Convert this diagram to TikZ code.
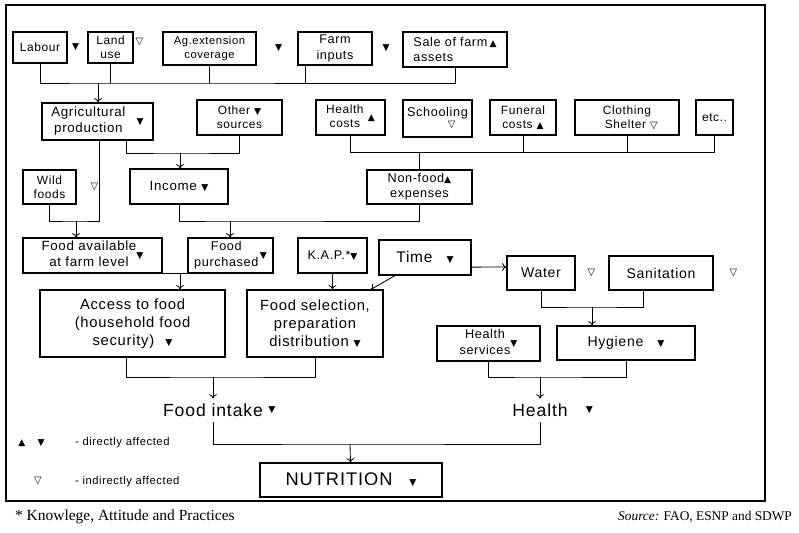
\documentclass[tikz,border=0pt]{standalone}
\usepackage{fontspec}
\usetikzlibrary{positioning}
\usetikzlibrary{arrows.meta}
\newfontfamily\boxfont[LetterSpace=5]{Liberation Sans}
\newfontfamily\notefont{Liberation Serif}
\newfontfamily\trifont{DejaVu Sans}
\newcommand{\dnfill}{{\trifont\fontsize{6.5}{7}\selectfont ▼}}
\newcommand{\upfill}{{\trifont\fontsize{6.5}{7}\selectfont ▲}}
\newcommand{\dnopen}{{\trifont\fontsize{7}{7}\selectfont ▽}}
\newcommand{\twolines}[1]{\begin{tabular}[c]{@{}c@{}}#1\end{tabular}}
\tikzset{
cbox/.style={ % Sets the properties for each box
draw,
line width=0.9pt,
inner sep=1pt,
align=center},
boxsize/.style 2 args={minimum width=#1*0.025cm, minimum height=#2*0.025cm},
fs/.style={font=\boxfont\fontsize{#1}{\dimexpr#1pt*6/5\relax}\selectfont},
sym/.style={inner sep=0pt} % Triangles beside the boxes
}

\begin{document}
\begin{tikzpicture}[x=0.025cm, y=-0.025cm, line width=0.6pt, >={To[length=3pt,width=5.5pt]}]
\useasboundingbox (0,0) rectangle (799,532);
\draw[line width=1pt] (6,5) rectangle (765,501);
% top row
\node[cbox, fs=8.5, boxsize={54}{31}] (labour) at (40,47.5) {Labour};
\node[sym, right=0.1cm of labour] (labour-s) {\dnfill};
\node[cbox, fs=8.5, boxsize={45}{31}] (land) at (110.5,47.5) {Land\\use};
\node[sym, right=0.04cm of land, yshift=0.14cm] (land-s) {\dnopen};
\node[cbox, fs=8, boxsize={93}{33}] (agext) at (209.5,48.5) {Ag.extension\\coverage};
\node[sym, right=0.45cm of agext] (agext-s) {\dnfill};
\node[cbox, fs=9, boxsize={74}{33}] (inputs) at (335,48.5) {Farm\\inputs};
\node[sym, right=0.24cm of inputs] (inputs-s) {\dnfill};
\node[cbox, fs=9, boxsize={104}{35}, align=left] (assets) at (455,49.5) {Sale of farm\,\upfill\\assets};
% second row
\node[cbox, fs=9.5, boxsize={111}{37}] (agr) at (97.5,121.5) {\twolines{Agricultural\\production}\hspace{8pt}\dnfill};
\node[cbox, fs=8.5, boxsize={85}{35}] (other) at (239.5,117.5) {Other \dnfill\\sources};
\node[cbox, fs=8.5, boxsize={69}{35}] (health) at (350.5,117.5) {\twolines{Health\\costs}\hspace{3pt}\upfill};
\node[cbox, fs=9, boxsize={69}{37}] (school) at (437.5,118.5) {Schooling\\[-3pt]\hspace*{20pt}\dnopen};
\node[cbox, fs=8.5, boxsize={66}{35}] (funeral) at (523,117.5) {Funeral\\costs \upfill};
\node[cbox, fs=8.5, boxsize={104}{35}] (cloth) at (627,117.5) {Clothing\\\hspace*{6pt}Shelter \dnopen};
\node[cbox, fs=8.5, boxsize={37}{35}] (etc) at (714.5,117.5) {etc..};
% third row
\node[cbox, fs=8.5, boxsize={53}{34}] (wild) at (49.5,187) {Wild\\foods};
\node[sym, right=0.34cm of wild] (wild-s) {\dnopen};
\node[cbox, fs=9.5, boxsize={98}{35}] (income) at (179,186.5) {Income \dnfill};
\node[cbox, fs=9, boxsize={105}{34}] (nonfood) at (419.5,187) {Non-food\upfill\\expenses};
% fourth row
\node[cbox, fs=9.5, boxsize={139}{35}] (farm) at (92.5,255.5) {\twolines{Food available\\at farm level}\dnfill};
\node[cbox, fs=9, boxsize={85}{35}] (purch) at (230.5,255.5) {\twolines{Food\\purchased}\hspace{1pt}\dnfill};
\node[cbox, fs=9, boxsize={69}{35}] (kap) at (332.5,255.5) {K.A.P.*\dnfill};
\node[cbox, fs=11, boxsize={92}{35}] (time) at (425,257.5) {Time\hspace{10pt}\dnfill};
\node[cbox, fs=10, boxsize={68}{34}] (water) at (541,273) {Water};
\node[sym, right=0.29cm of water] (water-s) {\dnopen};
\node[cbox, fs=10, boxsize={104}{34}] (sanit) at (661,273) {Sanitation};
\node[sym, right=0.39cm of sanit] (sanit-s) {\dnopen};
% fifth row
\node[cbox, fs=10.5, boxsize={185}{67}] (access) at (132.5,323.5) {Access to food\\(household food\\security)\hspace{8pt}\dnfill};
\node[cbox, fs=10.5, boxsize={136}{67}] (select) at (315,323.5) {Food selection,\\preparation\\distribution \dnfill};
\node[cbox, fs=9, boxsize={103}{35}] (hserv) at (488.5,343.5) {\twolines{Health\\services}\dnfill};
\node[cbox, fs=10, boxsize={138}{34}] (hyg) at (626,343) {Hygiene\hspace{10pt}\dnfill};
% outcomes
\node[fs=12.5] (intake) at (213,410) {Food intake};
\node[sym, right=0cm of intake] (intake-s) {\dnfill};
\node[fs=12.5] (hlth) at (540,410) {Health};
\node[sym, right=0.32cm of hlth] (hlth-s) {\dnfill};
\node[cbox, fs=13, boxsize={182}{34}] (nutr) at (351,480) {NUTRITION\hspace{12pt}\dnfill};
% legend and notes
\node[sym] (leg-up) at (22,443) {\upfill};
\node[sym, right=0.28cm of leg-up] (leg-dn) {\dnfill};
\node[fs=8, anchor=west] (leg-d) at (70,443) {- directly affected};
\node[sym] (leg-op) at (38,481) {\dnopen};
\node[fs=8, anchor=west] (leg-i) at (70,482) {- indirectly affected};
\node[font=\notefont\fontsize{11}{12}\selectfont, anchor=west] (note) at (10,517) {* Knowlege, Attitude and Practices};
\node[font=\notefont\fontsize{9.5}{11}\selectfont, anchor=east] (src) at (797,517) {\textit{Source:} FAO, ESNP and SDWP};
% connectors
\coordinate (top-j) at (98,83);
\coordinate (inp-j) at (305,83);
\draw (labour) |- (top-j) -| (assets);
\draw (land) -- (land |- top-j);
\draw (agext) -- (agext |- top-j);
\draw (inp-j) -- (inp-j |- inputs.south);
\draw[->] (top-j) -- (top-j |- agr.north);
\coordinate (inc-j) at (180,153);
\draw ([xshift=0.72cm]agr.south) |- (inc-j) -| (other);
\draw[->] (inc-j) -- (inc-j |- income.north);
\coordinate (nf-j) at (419.5,152);
\draw (health) |- (etc.south |- nf-j) -- (etc);
\draw (funeral) -- (funeral |- nf-j);
\draw (cloth) -- (cloth |- nf-j);
\draw (nf-j) -- (nonfood);
\coordinate (farm-j) at (76,221);
\draw (wild) |- (farm-j) -| ([xshift=0.06cm]agr.south);
\draw[->] (farm-j) -- (farm-j |- farm.north);
\coordinate (pur-j) at (230,221);
\draw (income) |- (pur-j) -| (nonfood);
\draw[->] (pur-j) -- (pur-j |- purch.north);
\coordinate (acc-j) at (180,273);
\draw (farm.south east) -- (purch.south west);
\draw[->] (acc-j) -- (acc-j |- access.north);
\draw[->] (kap) -- (kap |- select.north);
\draw[->] ([xshift=-0.75cm]time.south) -- ([xshift=1.4cm]select.north);
\draw[->] ([yshift=-0.24cm]time.east) -- ([yshift=0.15cm]water.west);
\coordinate (hyg-j) at (592,307);
\draw (water) |- (hyg-j) -| ([xshift=-0.45cm]sanit.south);
\draw[->] (hyg-j) -- (hyg-j |- hyg.north);
\coordinate (int-j) at (213,377);
\draw ([xshift=-0.14cm]access.south) |- (int-j) -| (select);
\draw[->] (int-j) -- (intake);
\coordinate (hl-j) at (540,377);
\draw (hserv) |- (hl-j) -| (hyg);
\draw[->] (hl-j) -- (hlth);
\coordinate (nut-j) at (350,444);
\draw (intake) |- (nut-j) -| (hlth);
\draw[->] (nut-j) -- (nutr);
\end{tikzpicture}
\end{document}
